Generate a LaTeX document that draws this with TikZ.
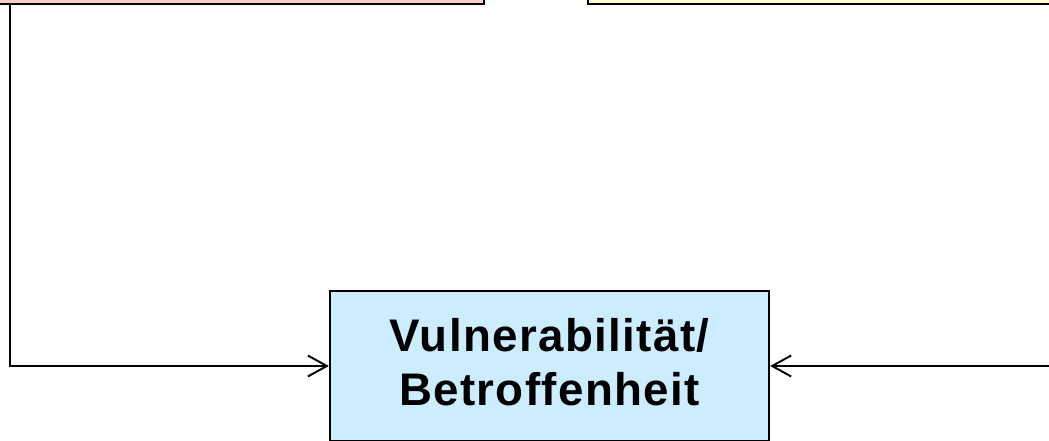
\documentclass[tikz,border=0pt]{standalone}
\usepackage{fontspec}
\setmainfont{Liberation Sans}
\newfontfamily\kastenfont[LetterSpace=3]{Liberation Sans}
\usepackage{tikz}
\usetikzlibrary{arrows.meta,positioning,calc}
\definecolor{gefahrC}{HTML}{FFCCCC}
\definecolor{sensiC}{HTML}{FFFFCC}
\definecolor{vulnC}{HTML}{CCECFF}
\tikzset{
  kasten/.style={rectangle, draw=black, line width=1.3pt, fill=#1,
                 align=center, inner sep=0pt},
  pfeil/.style={-{Straight Barb[length=3.8mm, width=4.2mm, line width=1.1pt]},
                line width=1.1pt, draw=black},
}

\begin{document}
\begin{tikzpicture}
    \useasboundingbox (0,0) rectangle (20.98,8.8);
    \clip (0,0) rectangle (20.98,8.8);
    % obere Kaesten, nur der untere Rand ist zu sehen
    \node[kasten=gefahrC, minimum width=10.18cm, minimum height=1.28cm] (gefahr) at (4.59,9.36) {};
    \node[kasten=sensiC, minimum width=10.24cm, minimum height=1.28cm] (sensi) at (16.88,9.36) {};
    % Vulnerabilitaet
    \node[kasten=vulnC, minimum width=8.78cm, minimum height=3.0cm, text depth=0.15cm,
          font=\kastenfont\bfseries\fontsize{26}{30.6}\selectfont] (vuln) at (10.99,1.48)
      {Vulnerabilität/\\Betroffenheit};
    \coordinate (lx) at (0.2,0);
    \coordinate (rx) at (21.4,0);
    \draw[pfeil] (lx |- gefahr.south) |- (vuln.west);
    \draw[pfeil] (rx |- sensi.south) |- (vuln.east);
  \end{tikzpicture}
\end{document}
